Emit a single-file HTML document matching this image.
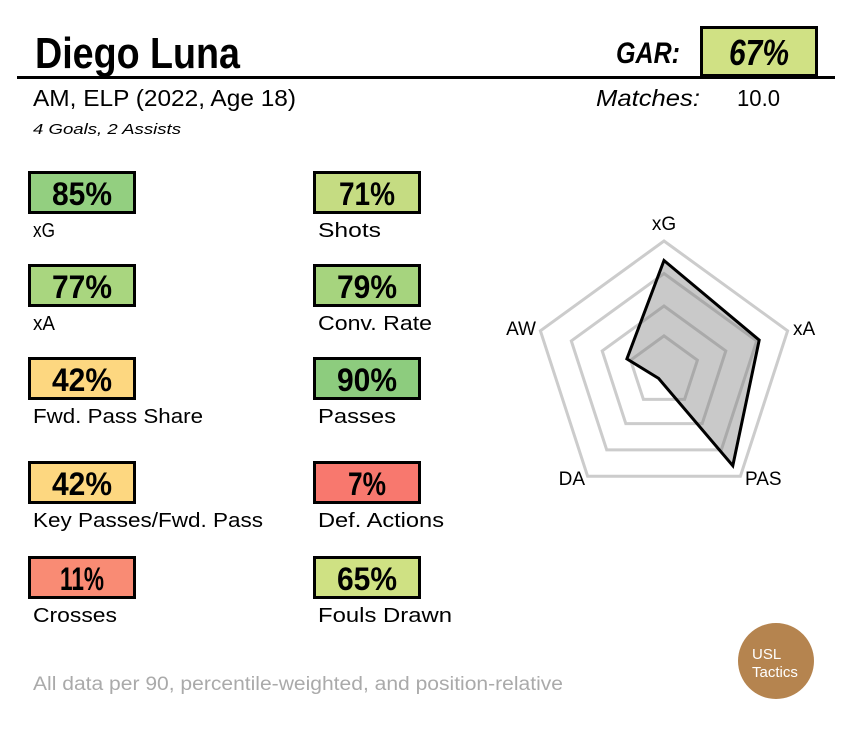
<!DOCTYPE html>
<html><head><meta charset="utf-8"><style>
html,body{margin:0;padding:0;background:#fff;}
svg{display:block;font-family:"Liberation Sans",sans-serif;}
</style></head><body>
<svg id="s" width="852" height="736" viewBox="0 0 852 736" xmlns="http://www.w3.org/2000/svg">
<rect width="852" height="736" fill="#fff"/>
<text x="35" y="68" font-size="44" font-weight="bold" textLength="205" lengthAdjust="spacingAndGlyphs">Diego Luna</text>
<text x="616" y="63" font-size="30" font-weight="bold" font-style="italic" textLength="64" lengthAdjust="spacingAndGlyphs">GAR:</text>
<rect x="701.5" y="27.5" width="115" height="48" fill="#d0e184" stroke="#000" stroke-width="3"/>
<text x="759" y="65" font-size="36" font-weight="bold" font-style="italic" text-anchor="middle" textLength="60" lengthAdjust="spacingAndGlyphs">67%</text>
<line x1="17" y1="77.5" x2="835" y2="77.5" stroke="#000" stroke-width="3"/>
<text x="33" y="106" font-size="23" textLength="263" lengthAdjust="spacingAndGlyphs">AM, ELP (2022, Age 18)</text>
<text x="596" y="106" font-size="23" font-style="italic" textLength="104" lengthAdjust="spacingAndGlyphs">Matches:</text>
<text x="737" y="106" font-size="23" textLength="43" lengthAdjust="spacingAndGlyphs">10.0</text>
<text x="33" y="134" font-size="15" font-style="italic" textLength="148" lengthAdjust="spacingAndGlyphs">4 Goals,  2 Assists</text>
<g id="boxes"></g>
<g id="radar"></g>
<text x="33" y="690" font-size="19" fill="#aaa" textLength="530" lengthAdjust="spacingAndGlyphs">All data per 90, percentile-weighted, and position-relative</text>
<circle cx="776" cy="661" r="38" fill="#b5844f"/>
<text x="752" y="659" font-size="15" fill="#fff">USL</text>
<text x="752" y="677" font-size="15" fill="#fff">Tactics</text>
</svg>
<script>
var NS="http://www.w3.org/2000/svg";
function el(p,t,a,txt){var e=document.createElementNS(NS,t);for(var k in a)e.setAttribute(k,a[k]);if(txt!=null)e.textContent=txt;p.appendChild(e);return e;}
var B=document.getElementById("boxes");
var rows=[171,264,357,461,556];
var data=[
[0,0,"85%","#93cf80","xG",22,60],[1,0,"71%","#c5dc82","Shots",63,56],
[0,1,"77%","#a9d67f","xA",22,60],[1,1,"79%","#a6d47e","Conv. Rate",114,60],
[0,2,"42%","#fdd780","Fwd. Pass Share",170,60],[1,2,"90%","#8dcc7e","Passes",78,60],
[0,3,"42%","#fdd780","Key Passes/Fwd. Pass",230,60],[1,3,"7%","#f8786e","Def. Actions",126,38],
[0,4,"11%","#f98b74","Crosses",84,44],[1,4,"65%","#cfe183","Fouls Drawn",134,60]];
data.forEach(function(d){
 var x=d[0]?313:28,y=rows[d[1]];
 el(B,"rect",{x:x+1.5,y:y+1.5,width:105,height:40,fill:d[3],stroke:"#000","stroke-width":3});
 el(B,"text",{x:x+54,y:y+34,"font-size":32,"font-weight":"bold","text-anchor":"middle",textLength:d[6],lengthAdjust:"spacingAndGlyphs"},d[2]);
 el(B,"text",{x:x+5,y:y+66,"font-size":20,textLength:d[5],lengthAdjust:"spacingAndGlyphs"},d[4]);
});
var R=document.getElementById("radar"),cx=664,cy=371,Rad=130;
var u=[[0,-1],[0.951,-0.309],[0.588,0.809],[-0.588,0.809],[-0.951,-0.309]];
function pts(v){return u.map(function(p,i){var r=Rad*(typeof v=="number"?v:v[i]);return (cx+p[0]*r).toFixed(1)+","+(cy+p[1]*r).toFixed(1);}).join(" ");}
[0.27,0.5,0.75,1].forEach(function(r){el(R,"polygon",{points:pts(r),fill:"none",stroke:"#cccccc","stroke-width":3});});
el(R,"polygon",{points:pts([0.85,0.77,0.9,0.07,0.3]),fill:"rgba(120,120,120,0.4)",stroke:"#000","stroke-width":3,"stroke-linejoin":"miter"});
[["xG",664,230,"middle"],["xA",793,335,"start"],["AW",536,335,"end"],["DA",585,485,"end"],["PAS",745,485,"start"]].forEach(function(l){
 el(R,"text",{x:l[1],y:l[2],"font-size":19,"text-anchor":l[3]},l[0]);});
</script>
</body></html>
